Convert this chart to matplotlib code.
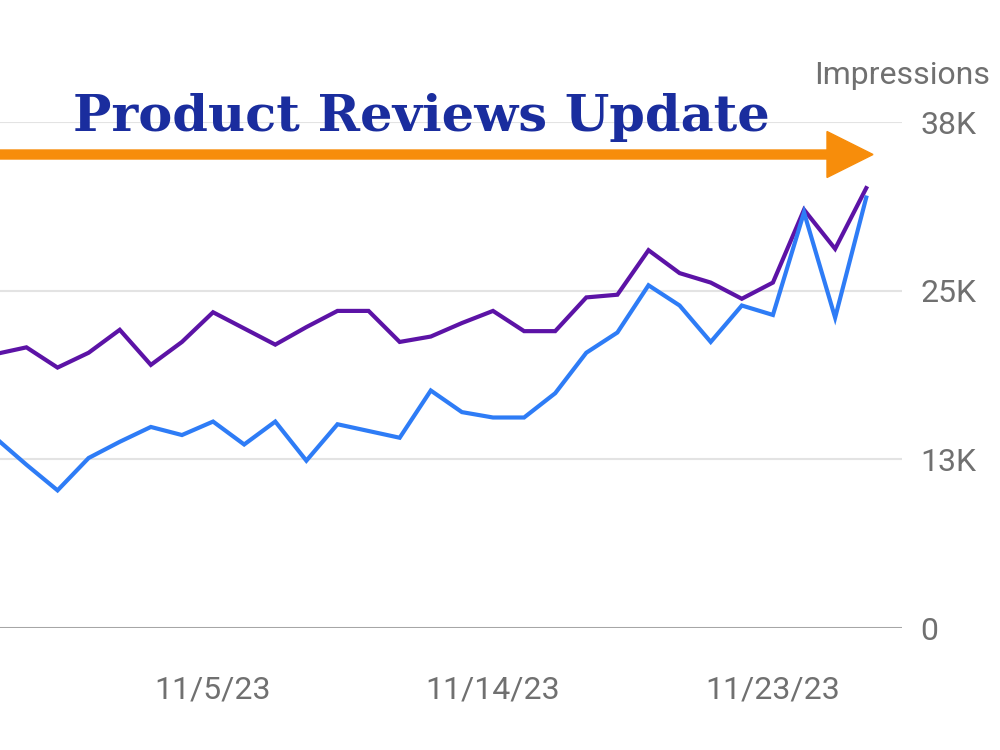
import numpy as np
import pandas as pd
import matplotlib
matplotlib.use("Agg")
import matplotlib.pyplot as plt
import matplotlib.dates as mdates
from matplotlib.patches import FancyArrow

# daily values (thousands)
dates = pd.date_range("2023-10-29", "2023-11-26", freq="D")
impressions = [20.3, 20.8, 19.3, 20.4, 22.1, 19.5, 21.2, 23.4, 22.2, 21.0,
               22.3, 23.5, 23.5, 21.2, 21.6, 22.6, 23.5, 22.0, 22.0, 24.5,
               24.7, 28.0, 26.3, 25.6, 24.4, 25.6, 31.0, 28.1, 32.6]
clicks = [14.1, 12.1, 10.2, 12.6, 13.8, 14.9, 14.3, 15.3, 13.6, 15.3,
          12.4, 15.1, 14.6, 14.1, 17.6, 16.0, 15.6, 15.6, 17.4, 20.4,
          21.9, 25.4, 23.9, 21.2, 23.9, 23.2, 30.8, 23.0, 31.9]
y_ticks = [0, 12500, 25000, 37500]
y_labels = ["0", "13K", "25K", "38K"]
x_ticks = ["2023-11-05", "2023-11-14", "2023-11-23"]
x_labels = ["11/5/23", "11/14/23", "11/23/23"]
title = "Product Reviews Update"

gray = "#707070"

fig = plt.figure(figsize=(10, 7.5), dpi=100)
ax = fig.add_axes([0.0, 1 - 628 / 750, 0.902, (628 - 122) / 750])

ax.plot(dates, np.array(impressions) * 1000, color="#5c13a6", lw=3,
        solid_joinstyle="miter", zorder=3)
ax.plot(dates, np.array(clicks) * 1000, color="#2e7cf6", lw=3,
        solid_joinstyle="miter", zorder=3)

x0 = mdates.date2num(pd.Timestamp("2023-11-05"))
ax.set_xlim(x0 - 6.85, x0 + 22.15)
ax.set_ylim(0, 37500)

for t in y_ticks[1:]:
    ax.axhline(t, color="#e3e3e3", lw=1.5, zorder=1)
ax.axhline(0, color="#a6a6a6", lw=2.2, zorder=2)

for s in ax.spines.values():
    s.set_visible(False)

ax.yaxis.tick_right()
ax.set_yticks(y_ticks)
ax.set_yticklabels(y_labels)
ax.set_xticks([mdates.date2num(pd.Timestamp(d)) for d in x_ticks])
ax.set_xticklabels(x_labels)
ax.tick_params(axis="y", length=0, pad=13, labelsize=23, labelcolor=gray)
ax.tick_params(axis="x", length=0, pad=34, labelsize=23, labelcolor=gray)
for lab in ax.get_xticklabels() + ax.get_yticklabels():
    lab.set_family("Roboto")
for lab in ax.get_yticklabels():
    lab.set_horizontalalignment("left")

fig.text(0.99, 1 - 75 / 750, "Impressions", ha="right", va="center",
         fontsize=23, color=gray, family="Roboto")

# orange arrow across the top
arrow = FancyArrow(-0.1, 5.955, 8.83, 0, width=0.09, head_width=0.46,
                   head_length=0.46, length_includes_head=True,
                   color="#f78d0b", transform=fig.dpi_scale_trans)
fig.patches.append(arrow)

fig.text(0.073, 1 - 131 / 750, title, ha="left", va="baseline",
         fontsize=36.7, fontweight="bold", color="#1a2d9e",
         family="DejaVu Serif")

fig.savefig("out.png", dpi=100)
